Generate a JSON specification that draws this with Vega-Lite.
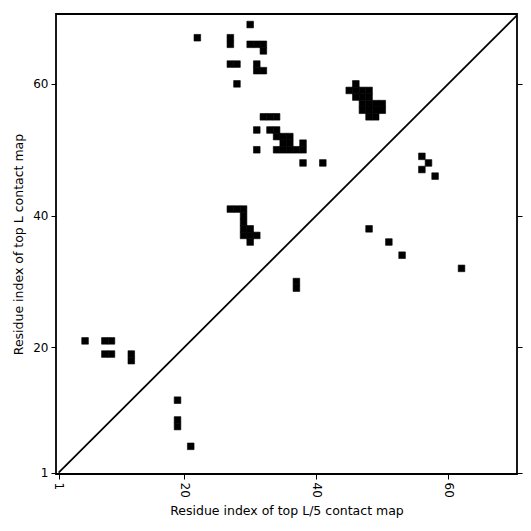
{
  "$schema": "https://vega.github.io/schema/vega-lite/v6.json",
  "width": 461,
  "height": 460,
  "autosize": {"type": "none"},
  "padding": {"left": 56, "top": 14, "right": 14, "bottom": 57},
  "config": {
    "view": {"stroke": "black", "strokeWidth": 1.8},
    "font": "DejaVu Sans",
    "axis": {
      "domain": false,
      "grid": false,
      "ticks": true,
      "tickColor": "black",
      "tickSize": 5,
      "tickWidth": 1,
      "labelColor": "black",
      "labelFontSize": 12,
      "labelPadding": 3,
      "titleColor": "black",
      "titleFontSize": 12.5,
      "titleFontWeight": "normal"
    }
  },
  "datasets": {
    "contacts": [
      {"i": 5, "j": 21, "map": "top L"}, {"i": 8, "j": 21, "map": "top L"}, {"i": 9, "j": 21, "map": "top L"},
      {"i": 8, "j": 19, "map": "top L"}, {"i": 9, "j": 19, "map": "top L"}, {"i": 12, "j": 19, "map": "top L"},
      {"i": 12, "j": 18, "map": "top L"},
      {"i": 22, "j": 67, "map": "top L"}, {"i": 27, "j": 67, "map": "top L"}, {"i": 27, "j": 66, "map": "top L"},
      {"i": 30, "j": 69, "map": "top L"}, {"i": 30, "j": 66, "map": "top L"}, {"i": 31, "j": 66, "map": "top L"},
      {"i": 32, "j": 66, "map": "top L"}, {"i": 32, "j": 65, "map": "top L"},
      {"i": 27, "j": 63, "map": "top L"}, {"i": 28, "j": 63, "map": "top L"}, {"i": 31, "j": 63, "map": "top L"},
      {"i": 31, "j": 62, "map": "top L"}, {"i": 32, "j": 62, "map": "top L"}, {"i": 28, "j": 60, "map": "top L"},
      {"i": 32, "j": 55, "map": "top L"}, {"i": 33, "j": 55, "map": "top L"}, {"i": 34, "j": 55, "map": "top L"},
      {"i": 31, "j": 53, "map": "top L"}, {"i": 33, "j": 53, "map": "top L"}, {"i": 34, "j": 53, "map": "top L"},
      {"i": 34, "j": 52, "map": "top L"}, {"i": 35, "j": 52, "map": "top L"}, {"i": 36, "j": 52, "map": "top L"},
      {"i": 35, "j": 51, "map": "top L"}, {"i": 36, "j": 51, "map": "top L"}, {"i": 38, "j": 51, "map": "top L"},
      {"i": 31, "j": 50, "map": "top L"}, {"i": 34, "j": 50, "map": "top L"}, {"i": 35, "j": 50, "map": "top L"},
      {"i": 36, "j": 50, "map": "top L"}, {"i": 37, "j": 50, "map": "top L"}, {"i": 38, "j": 50, "map": "top L"},
      {"i": 38, "j": 48, "map": "top L"}, {"i": 41, "j": 48, "map": "top L"},
      {"i": 46, "j": 60, "map": "top L"},
      {"i": 45, "j": 59, "map": "top L"}, {"i": 46, "j": 59, "map": "top L"}, {"i": 47, "j": 59, "map": "top L"}, {"i": 48, "j": 59, "map": "top L"},
      {"i": 46, "j": 58, "map": "top L"}, {"i": 47, "j": 58, "map": "top L"}, {"i": 48, "j": 58, "map": "top L"},
      {"i": 47, "j": 57, "map": "top L"}, {"i": 48, "j": 57, "map": "top L"}, {"i": 49, "j": 57, "map": "top L"}, {"i": 50, "j": 57, "map": "top L"},
      {"i": 47, "j": 56, "map": "top L"}, {"i": 48, "j": 56, "map": "top L"}, {"i": 49, "j": 56, "map": "top L"}, {"i": 50, "j": 56, "map": "top L"},
      {"i": 48, "j": 55, "map": "top L"}, {"i": 49, "j": 55, "map": "top L"},
      {"i": 27, "j": 41, "map": "top L"}, {"i": 28, "j": 41, "map": "top L"}, {"i": 29, "j": 41, "map": "top L"},
      {"i": 29, "j": 40, "map": "top L"}, {"i": 29, "j": 39, "map": "top L"},
      {"i": 29, "j": 38, "map": "top L"}, {"i": 30, "j": 38, "map": "top L"},
      {"i": 29, "j": 37, "map": "top L"}, {"i": 30, "j": 37, "map": "top L"}, {"i": 31, "j": 37, "map": "top L"},
      {"i": 30, "j": 36, "map": "top L"},
      {"i": 21, "j": 5, "map": "top L/5"}, {"i": 19, "j": 8, "map": "top L/5"}, {"i": 19, "j": 9, "map": "top L/5"},
      {"i": 19, "j": 12, "map": "top L/5"}, {"i": 37, "j": 29, "map": "top L/5"}, {"i": 37, "j": 30, "map": "top L/5"},
      {"i": 48, "j": 38, "map": "top L/5"}, {"i": 51, "j": 36, "map": "top L/5"}, {"i": 53, "j": 34, "map": "top L/5"},
      {"i": 62, "j": 32, "map": "top L/5"}, {"i": 56, "j": 47, "map": "top L/5"}, {"i": 56, "j": 49, "map": "top L/5"},
      {"i": 57, "j": 48, "map": "top L/5"}, {"i": 58, "j": 46, "map": "top L/5"}
    ],
    "diag": [{"i": 1, "j": 1}, {"i": 71, "j": 71}]
  },
  "encoding": {
    "x": {
      "field": "i", "type": "quantitative",
      "scale": {"domain": [0.6, 70.4], "nice": false, "zero": false},
      "axis": {"values": [1, 20, 40, 60], "title": "Residue index of top L/5 contact map", "labelAngle": 90, "labelAlign": "left", "labelBaseline": "middle", "titlePadding": 7}
    }
  },
  "layer": [
    {
      "data": {"name": "contacts"},
      "mark": {"type": "square", "size": 44, "color": "black", "opacity": 1, "filled": true, "stroke": "black", "strokeWidth": 0.6},
      "encoding": {
        "y": {
          "field": "j", "type": "quantitative",
          "scale": {"domain": [0.8, 70.6], "nice": false, "zero": false},
          "axis": {"values": [1, 20, 40, 60], "title": "Residue index of top L contact map", "titlePadding": 7}
        }
      }
    },
    {
      "data": {"name": "diag"},
      "mark": {"type": "line", "color": "black", "strokeWidth": 1.8, "clip": true},
      "encoding": {
        "y": {"field": "j", "type": "quantitative", "axis": {"orient": "right", "values": [1, 20, 40, 60], "labels": false, "title": null}}
      }
    }
  ],
  "resolve": {"axis": {"y": "independent"}}
}
